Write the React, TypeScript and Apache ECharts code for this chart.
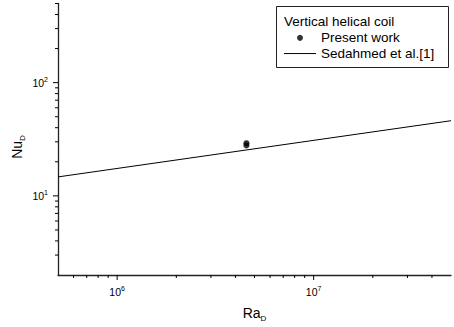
import React, { useEffect, useRef } from 'react';
import * as echarts from 'echarts';

// Axis ranges
const X_MIN = 5e5;
const X_MAX = 5e7;
const Y_MIN = 2;
const Y_MAX = 500;

// Tick values
const xMajorTicks = [1e6, 1e7];
const xMinorTicks = [6e5, 7e5, 8e5, 9e5, 2e6, 3e6, 4e6, 5e6, 6e6, 7e6, 8e6, 9e6, 2e7, 3e7, 4e7];
const yMajorTicks = [10, 100];
const yMinorTicks = [3, 4, 5, 6, 7, 8, 9, 20, 30, 40, 50, 60, 70, 80, 90, 200, 300, 400, 500];

// Data
const presentRa = [4.55e6, 4.55e6];
const presentNu = [29.2, 27.9];
const sedahmedRa = [5e5, 5e7];
const sedahmedNu = [14.7, 46.1];

const legendTitle = 'Vertical helical coil';
const seriesNames = ['Present work', 'Sedahmed et al.[1]'];

const FONT = '"Liberation Sans", Arial, Helvetica, sans-serif';

function powLabel(v: number): string {
  const e = Math.log10(v);
  const r = Math.round(e);
  if (Math.abs(e - r) > 1e-6) return '';
  return `{b|10}{s|${r}}`;
}

const labelRich = {
  b: { fontSize: 10.5, fontFamily: FONT, color: '#000', lineHeight: 13 },
  s: { fontSize: 7, fontFamily: FONT, color: '#000', verticalAlign: 'top', lineHeight: 8 },
};

const nameRich = {
  n: { fontSize: 14, fontFamily: FONT, color: '#000', lineHeight: 18 },
  d: { fontSize: 8, fontFamily: FONT, color: '#000', verticalAlign: 'bottom', lineHeight: 9 },
};

export default function App() {
  const ref = useRef<HTMLDivElement>(null);

  useEffect(() => {
    if (!ref.current) return;
    const chart = echarts.init(ref.current, undefined, { renderer: 'svg' });

    const xTickData = [
      ...xMajorTicks.map((v) => [v, Y_MIN, 1]),
      ...xMinorTicks.map((v) => [v, Y_MIN, 0]),
    ];
    const yTickData = [
      ...yMajorTicks.map((v) => [X_MIN, v, 1]),
      ...yMinorTicks.map((v) => [X_MIN, v, 0]),
    ];

    const option: any = {
      animation: false,
      backgroundColor: '#fff',
      grid: { left: 58, top: 3.5, width: 398, height: 273.5, containLabel: false },
      xAxis: {
        type: 'log',
        logBase: 10,
        min: X_MIN,
        max: X_MAX,
        name: '{n|Ra}{d|D}',
        nameLocation: 'middle',
        nameGap: 29,
        nameTextStyle: { rich: nameRich },
        axisLine: { show: true, lineStyle: { color: '#222', width: 1.3 } },
        axisTick: { show: false },
        splitLine: { show: false },
        axisLabel: {
          margin: 10,
          formatter: (v: number) => powLabel(v),
          rich: labelRich,
        },
      },
      yAxis: {
        type: 'log',
        logBase: 10,
        min: Y_MIN,
        max: Y_MAX,
        axisLine: { show: true, lineStyle: { color: '#222', width: 1.3 } },
        axisTick: { show: false },
        splitLine: { show: false },
        axisLabel: {
          margin: 10,
          formatter: (v: number) => powLabel(v),
          rich: labelRich,
        },
      },
      legend: {
        data: [
          { name: seriesNames[0], icon: 'circle' },
          { name: seriesNames[1], icon: 'path://M0,0H32V1H0Z' },
        ],
        orient: 'vertical',
        left: 284,
        top: 30,
        padding: 0,
        itemGap: 0,
        itemWidth: 32,
        itemHeight: 6,
        selectedMode: false,
        z: 30,
        itemStyle: { color: '#000', borderWidth: 0 },
        textStyle: { fontSize: 13.5, fontFamily: FONT, color: '#000', lineHeight: 15.7 },
      },
      graphic: [
        {
          type: 'rect',
          shape: { x: 276.5, y: 6.5, width: 172, height: 61 },
          style: { fill: '#fff', stroke: '#222', lineWidth: 1 },
          z: 10,
        },
        {
          type: 'text',
          x: 284,
          y: 21.5,
          style: {
            text: legendTitle,
            fontSize: 13.5,
            fontFamily: FONT,
            fill: '#000',
            verticalAlign: 'middle',
          },
          z: 11,
        },
        {
          type: 'text',
          x: 17,
          y: 147,
          rotation: Math.PI / 2,
          style: {
            text: '{n|Nu}{d|D}',
            rich: nameRich,
            align: 'center',
            verticalAlign: 'middle',
          },
          z: 11,
        },
      ],
      series: [
        {
          name: seriesNames[0],
          type: 'scatter',
          symbol: 'circle',
          symbolSize: 6,
          itemStyle: { color: '#000' },
          data: presentRa.map((r, i) => [r, presentNu[i]]),
          z: 5,
        },
        {
          name: seriesNames[1],
          type: 'line',
          symbol: 'none',
          showSymbol: false,
          lineStyle: { color: '#000', width: 1 },
          itemStyle: { color: '#000' },
          data: sedahmedRa.map((r, i) => [r, sedahmedNu[i]]),
          z: 4,
        },
        {
          type: 'custom',
          silent: true,
          clip: false,
          z: 6,
          data: xTickData,
          renderItem: (params: any, api: any) => {
            const p = api.coord([api.value(0), api.value(1)]);
            const len = api.value(2) ? 5 : 3;
            return {
              type: 'line',
              shape: { x1: p[0], y1: p[1], x2: p[0], y2: p[1] + len },
              style: { stroke: '#000', lineWidth: 1 },
            };
          },
        },
        {
          type: 'custom',
          silent: true,
          clip: false,
          z: 6,
          data: yTickData,
          renderItem: (params: any, api: any) => {
            const p = api.coord([api.value(0), api.value(1)]);
            const len = api.value(2) ? 5 : 3;
            return {
              type: 'line',
              shape: { x1: p[0] - len, y1: p[1], x2: p[0], y2: p[1] },
              style: { stroke: '#000', lineWidth: 1 },
            };
          },
        },
      ],
    };

    chart.setOption(option);
    return () => {
      chart.dispose();
    };
  }, []);

  return (
    <div
      ref={ref}
      style={{ position: 'fixed', left: 0, top: 0, width: 454, height: 327, background: '#fff' }}
    />
  );
}
